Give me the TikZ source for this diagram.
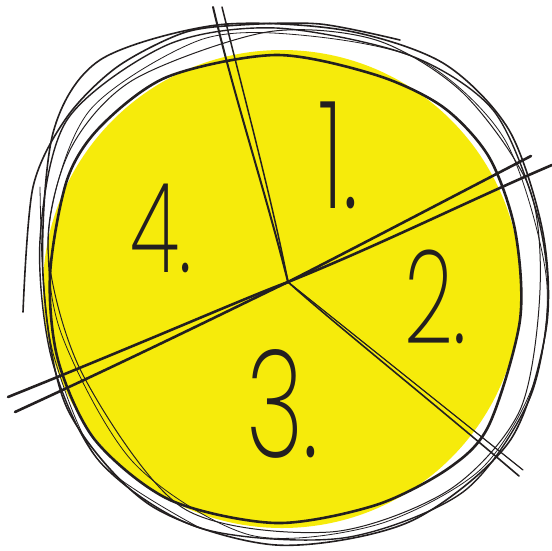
\documentclass[tikz,border=0pt]{standalone}
\usepackage{fontspec}
\newfontfamily\handfont{Poppins ExtraLight}
\definecolor{lemon}{HTML}{F6EB0B}
\definecolor{ink}{HTML}{231F20}
\tikzset{
  sketch/.style={draw=ink, line cap=round, line join=round},
  digit/.style={font=\handfont\fontsize{#1}{#1}\selectfont, text=ink,
    inner sep=0pt, anchor=base west, xscale=.66},
}

\begin{document}
\begin{tikzpicture}[x=1pt,y=-1pt]
  \useasboundingbox (0,0) rectangle (552,550);
  \fill[lemon] (282,289) circle[radius=239];

  % scribbled rim
  \draw[sketch, line width=2.6] plot[smooth cycle] coordinates
    {(50,275) (67,180) (100,127) (167,77) (276,55) (376,75) (443,107) (489,157)
     (515,230) (520,320) (489,425) (449,468) (376,505) (276,523) (170,500) (95,440) (58,360)};
  \draw[sketch, line width=1.6] plot[smooth cycle] coordinates
    {(43,275) (53,133) (100,60) (217,25) (343,30) (443,63) (509,130) (543,233)
     (546,330) (509,442) (409,522) (276,545) (150,505) (67,408)};
  \draw[sketch, line width=1.4] plot[smooth cycle] coordinates
    {(40,240) (67,120) (167,45) (276,28) (409,55) (493,110) (536,210) (548,300)
     (529,400) (463,492) (343,538) (200,528) (100,462) (52,360)};
  \draw[sketch, line width=1.0] plot[smooth cycle] coordinates
    {(48,250) (70,150) (133,80) (267,32) (376,40) (463,93) (529,187) (540,290)
     (520,410) (449,490) (330,532) (183,508) (83,375)};
  \draw[sketch, line width=0.8] plot[smooth cycle] coordinates
    {(50,220) (90,110) (200,40) (300,35) (420,60) (505,140) (546,275) (535,380)
     (480,470) (376,525) (250,535) (133,462) (60,330)};
  \draw[sketch, line width=1.6] plot[smooth] coordinates
    {(23,312) (33,187) (67,117) (117,67) (183,33) (240,25) (320,24) (400,40)};
  \draw[sketch, line width=0.8] plot[smooth] coordinates
    {(40,187) (43,275) (55,360) (100,462) (200,528)};

  % cuts
  \coordinate (ctr) at (288,282);
  \draw[sketch, line width=2.0] (213,7) .. controls (235,100) and (265,190) .. (ctr);
  \draw[sketch, line width=1.5] (222,7) .. controls (245,100) and (272,200) .. (ctr);
  \draw[sketch, line width=2.6] (8,397) .. controls (150,340) and (240,300) .. (ctr)
    .. controls (370,240) and (450,198) .. (531,156);
  \draw[sketch, line width=2.6] (15,412) .. controls (150,350) and (250,300) .. (ctr)
    .. controls (380,245) and (470,200) .. (552,165);
  \draw[sketch, line width=1.2] (ctr) -- (523,470);
  \draw[sketch, line width=1.6] (ctr) .. controls (330,320) and (430,400) .. (519,476);

  % labels
  \node[digit=150] (n1) at (318,208) {1.};
  \node[digit=130] (n2) at (404,343) {2.};
  \node[digit=150] (n3) at (246,457) {3.};
  \node[digit=125] (n4) at (130,272) {4.};
\end{tikzpicture}
\end{document}
